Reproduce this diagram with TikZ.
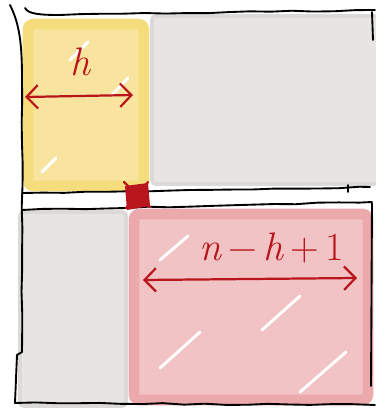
\documentclass[tikz,border=0pt]{standalone}
\usepackage{fontspec}
\usetikzlibrary{arrows.meta,decorations.pathmorphing}

\definecolor{hlyellow}{HTML}{F8E49E}
\definecolor{hlyellowdk}{HTML}{F5DC7C}
\definecolor{hlgray}{HTML}{E6E5E2}
\definecolor{hlgraydk}{HTML}{DCDAD7}
\definecolor{hlpink}{HTML}{F2C3C5}
\definecolor{hlpinkdk}{HTML}{EBA9AC}
\definecolor{penred}{HTML}{B8161C}

\begin{document}
\begin{tikzpicture}[
    x=0.3mm, y=-0.3mm,
    ink/.style={line width=1.6pt, line cap=round, line join=round},
    frame/.style={ink, draw=black},
    redpen/.style={ink, draw=penred, line width=1.9pt},
    span/.style={redpen, {Straight Barb[length=3.4mm, width=7mm, line width=1.9pt]}-{Straight Barb[length=3.4mm, width=7mm, line width=1.9pt]}},
    yellowbox/.style={fill=hlyellow, draw=hlyellowdk, line width=9pt, line join=round, rounded corners=4pt},
    graybox/.style={fill=hlgray, draw=hlgraydk, line width=3pt, line join=round, rounded corners=3pt},
    pinkbox/.style={fill=hlpink, draw=hlpinkdk, line width=9pt, line join=round, rounded corners=4pt},
    streak/.style={white, line width=2.5pt, line cap=round},
    widthlabel/.style={font=\fontsize{34}{40}\selectfont, text=penred},
    wobble/.style={decorate, decoration={random steps, segment length=18pt, amplitude=0.6pt}}
  ]
\pgfmathsetseed{7}
\useasboundingbox (0,0) rectangle (375,410);

% --- shaded regions ---
\path[graybox] (152,16) rectangle (378,184);
\path[graybox] (20,212) rectangle (126,406);
\path[yellowbox] (28,24) rectangle (144,186);
\path[pinkbox] (134,214) rectangle (368,400);

% a few white streaks left by the marker
\draw[streak] (70,60) -- (88,42);
\draw[streak] (112,95) -- (128,78);
\draw[streak] (42,172) -- (56,158);
\draw[streak] (160,260) -- (188,236);
\draw[streak] (262,330) -- (300,296);
\draw[streak] (160,368) -- (200,332);
\draw[streak] (300,392) -- (346,352);

% --- outer frame ---
\draw[frame] (10,5) .. controls (20,25) and (22,45) .. (22,80);
\draw[frame, wobble] (22,80) -- (22,352);
\draw[frame] (22,352) -- (17,355) -- (15,403);
\draw[frame] (25,8) .. controls (28,14) and (40,15) .. (60,15);
\draw[frame, wobble] (60,15) -- (375,10);
\draw[frame, wobble] (15,403) -- (375,405);
\draw[frame] (372,12) -- (373,40);
\draw[frame] (372,203) -- (371,386);

% --- split between the two halves ---
\draw[frame, wobble] (22,193) -- (370,187);
\draw[frame] (348,185) -- (348,192);
\draw[frame, wobble] (22,210) -- (372,202);

% --- the cell where they meet ---
\fill[penred] (125,186) -- (148,183) -- (150,206) -- (127,210) -- cycle;
\draw[redpen] (124,182) -- (150,207);
\draw[redpen] (126,208) -- (148,182);

% --- widths ---
\coordinate (hL) at (25,97);
\coordinate (hR) at (133,95);
\node[widthlabel] (hlabel) at (80,62) {\itshape h};
\draw[span] (hL) -- (hR);

\coordinate (nL) at (143,280);
\coordinate (nR) at (357,278);
\node[widthlabel] (nlabel) at (272,248) {\itshape n\,\upshape −\,\itshape h\,\upshape +\,1};
\draw[span] (nL) -- (nR);

\end{tikzpicture}
\end{document}
